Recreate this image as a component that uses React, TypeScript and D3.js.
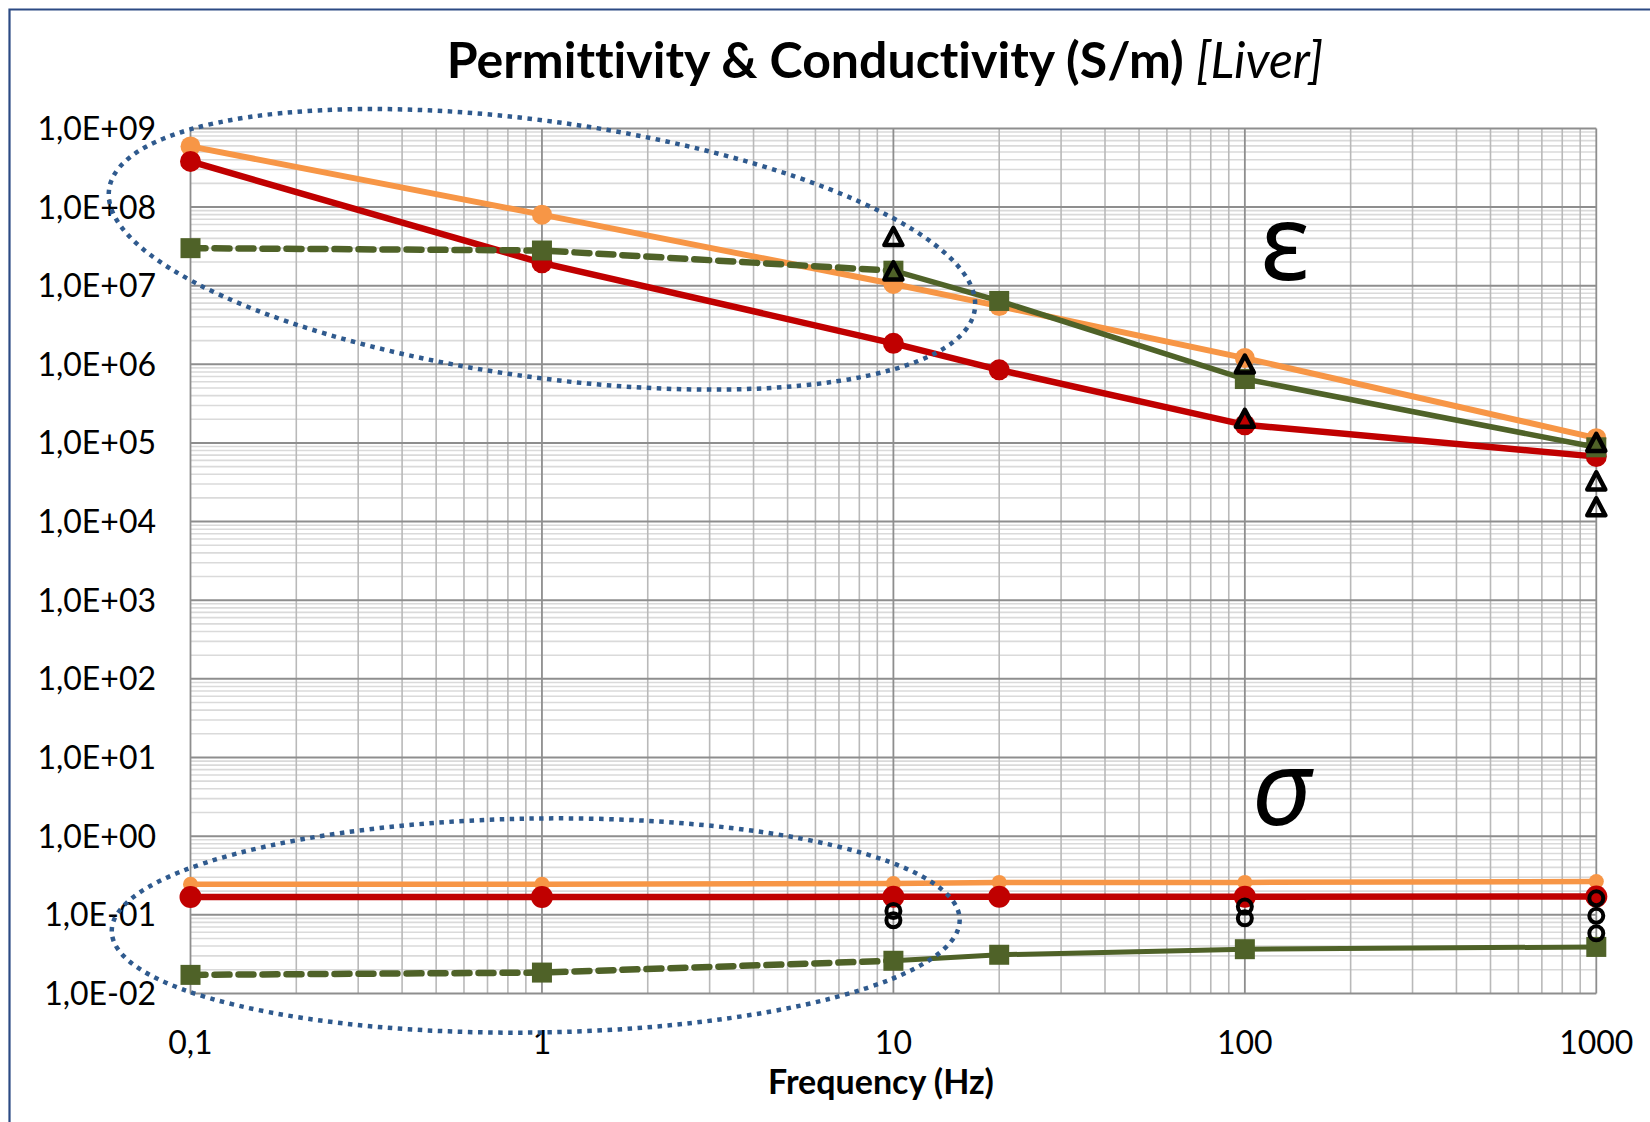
import * as d3 from 'd3';

// frequencies (Hz) where every series has a point
const freqs = [0.1, 1, 10, 20, 100, 1000];

// permittivity (upper group)
const permOrange = [5.9e8, 8.0e7, 1.05e7, 5.5e6, 1.2e6, 1.15e5];
const permRed = [3.8e8, 1.95e7, 1.85e6, 8.5e5, 1.7e5, 6.7e4];
const permGreen = [3.0e7, 2.8e7, 1.55e7, 6.4e6, 6.5e5, 8.8e4];

// conductivity (lower group)
const condOrange = [0.244, 0.245, 0.25, 0.258, 0.258, 0.265];
const condRed = [0.168, 0.168, 0.169, 0.17, 0.17, 0.171];
const condGreen = [0.0172, 0.0184, 0.026, 0.031, 0.0365, 0.039];

// literature points (black open markers)
const refPermFreq = [10, 10, 100, 100, 1000, 1000, 1000];
const refPermVal = [4.1e7, 1.5e7, 9.8e5, 2.0e5, 9.9e4, 3.2e4, 1.5e4];
const refCondFreq = [10, 10, 100, 100, 1000, 1000, 1000];
const refCondVal = [0.112, 0.085, 0.127, 0.09, 0.162, 0.097, 0.058];

const xTicks = [0.1, 1, 10, 100, 1000];
const xTickLabels = ['0,1', '1', '10', '100', '1000'];
const yTicks = [1e-2, 1e-1, 1e0, 1e1, 1e2, 1e3, 1e4, 1e5, 1e6, 1e7, 1e8, 1e9];
const yTickLabels = ['1,0E-02', '1,0E-01', '1,0E+00', '1,0E+01', '1,0E+02', '1,0E+03',
  '1,0E+04', '1,0E+05', '1,0E+06', '1,0E+07', '1,0E+08', '1,0E+09'];

const W = 1650;
const H = 1122;
const plot = { left: 190.5, right: 1596.3, top: 128.4, bottom: 993.4 };

const ORANGE = '#f79646';
const RED = '#c00000';
const GREEN = '#4f6228';
const BLUE = '#2f5a8e';
const FONT = 'Lato, "Open Sans", sans-serif';

function App() {
  const x = d3.scaleLog().domain([0.1, 1000]).range([plot.left, plot.right]);
  const y = d3.scaleLog().domain([0.01, 1e9]).range([plot.bottom, plot.top]);

  const line = d3.line<[number, number]>().x(d => x(d[0])).y(d => y(d[1]));
  const pts = (vals: number[]) => freqs.map((f, i) => [f, vals[i]] as [number, number]);
  const upTo10 = (vals: number[]) => pts(vals).filter(d => d[0] <= 10);
  const from10 = (vals: number[]) => pts(vals).filter(d => d[0] >= 10);

  // minor grid values
  const minorX: number[] = [];
  for (let e = -1; e < 3; e++) for (let k = 2; k <= 9; k++) minorX.push(k * Math.pow(10, e));
  const minorY: number[] = [];
  for (let e = -2; e < 9; e++) for (let k = 2; k <= 9; k++) minorY.push(k * Math.pow(10, e));

  const tri = (cx: number, cy: number) => {
    const s = 9.5;
    return `M${cx},${cy - s}L${cx + s * 0.95},${cy + s * 0.8}L${cx - s * 0.95},${cy + s * 0.8}Z`;
  };

  return (
    <svg width={W} height={H} style={{ position: 'absolute', left: 0, top: 0, display: 'block' }}
      fontFamily={FONT}>
      <rect x={0} y={0} width={W} height={H} fill="#fff" />
      {/* outer chart border, runs off the picture right and bottom */}
      <path d={`M9.5,${H + 5}V9.5H${W + 5}`} fill="none" stroke="#2c4a84" strokeWidth={2.2} />

      {/* grid */}
      <g>
        {minorY.map((v, i) => (
          <line key={'hy' + i} x1={plot.left} x2={plot.right} y1={y(v)} y2={y(v)} stroke="#dadada" strokeWidth={1.6} />
        ))}
        {minorX.map((v, i) => (
          <line key={'vx' + i} x1={x(v)} x2={x(v)} y1={plot.top} y2={plot.bottom} stroke="#b9b9b9" strokeWidth={1.6} />
        ))}
        {yTicks.map((v, i) => (
          <line key={'my' + i} x1={plot.left} x2={plot.right} y1={y(v)} y2={y(v)} stroke="#8e8e8e" strokeWidth={2} />
        ))}
        {xTicks.map((v, i) => (
          <line key={'mx' + i} x1={x(v)} x2={x(v)} y1={plot.top} y2={plot.bottom} stroke="#8e8e8e" strokeWidth={1.8} />
        ))}
      </g>

      {/* title */}
      <text x={885} y={78} textAnchor="middle" fontSize={50} fontWeight="bold" fill="#000"
        style={{ fontVariantLigatures: 'none' }}>
        Permittivity &amp; Conductivity (S/m){' '}
        <tspan fontStyle="italic" fontWeight="normal">[Liver]</tspan>
      </text>

      {/* axis labels */}
      {yTicks.map((v, i) => (
        <text key={'yl' + i} x={156} y={y(v) + 11.5} textAnchor="end" fontSize={32} fill="#000">{yTickLabels[i]}</text>
      ))}
      {xTicks.map((v, i) => (
        <text key={'xl' + i} x={x(v)} y={1054} textAnchor="middle" fontSize={32} fill="#000">{xTickLabels[i]}</text>
      ))}
      <text x={881} y={1094} textAnchor="middle" fontSize={34} fontWeight="bold" fill="#000">Frequency (Hz)</text>

      {/* Greek labels */}
      <text x={1260} y={280} fontSize={106} fontFamily='"Noto Sans", "DejaVu Sans", sans-serif' fill="#000">ε</text>
      <text x={1252} y={825} fontSize={104} fontStyle="italic" fontFamily='"Noto Sans", "DejaVu Sans", sans-serif' fill="#000">σ</text>

      {/* permittivity series */}
      <path d={line(pts(permOrange)) || ''} fill="none" stroke={ORANGE} strokeWidth={6} />
      {pts(permOrange).map((d, i) => <circle key={'po' + i} cx={x(d[0])} cy={y(d[1])} r={10} fill={ORANGE} />)}
      <path d={line(pts(permRed)) || ''} fill="none" stroke={RED} strokeWidth={6.5} />
      {pts(permRed).map((d, i) => <circle key={'pr' + i} cx={x(d[0])} cy={y(d[1])} r={10.5} fill={RED} />)}
      <path d={line(upTo10(permGreen)) || ''} fill="none" stroke={GREEN} strokeWidth={6.5}
        strokeDasharray="15 9" strokeLinecap="round" />
      <path d={line(from10(permGreen)) || ''} fill="none" stroke={GREEN} strokeWidth={5.5} />
      {pts(permGreen).map((d, i) => <rect key={'pg' + i} x={x(d[0]) - 10} y={y(d[1]) - 10} width={20} height={20} fill={GREEN} />)}

      {/* conductivity series */}
      <path d={line(pts(condOrange)) || ''} fill="none" stroke={ORANGE} strokeWidth={5.5} />
      {pts(condOrange).map((d, i) => <circle key={'co' + i} cx={x(d[0])} cy={y(d[1])} r={7.5} fill={ORANGE} />)}
      <path d={line(pts(condRed)) || ''} fill="none" stroke={RED} strokeWidth={6.5} />
      {pts(condRed).map((d, i) => <circle key={'cr' + i} cx={x(d[0])} cy={y(d[1])} r={11} fill={RED} />)}
      <path d={line(upTo10(condGreen)) || ''} fill="none" stroke={GREEN} strokeWidth={6.5}
        strokeDasharray="15 9" strokeLinecap="round" />
      <path d={line(from10(condGreen)) || ''} fill="none" stroke={GREEN} strokeWidth={5} />
      {pts(condGreen).map((d, i) => <rect key={'cg' + i} x={x(d[0]) - 10} y={y(d[1]) - 10} width={20} height={20} fill={GREEN} />)}

      {/* reference markers */}
      {refPermFreq.map((f, i) => (
        <path key={'rt' + i} d={tri(x(f), y(refPermVal[i]))} fill="none" stroke="#000" strokeWidth={4.5} strokeLinejoin="round" />
      ))}
      {refCondFreq.map((f, i) => (
        <circle key={'rc' + i} cx={x(f)} cy={y(refCondVal[i])} r={7} fill="none" stroke="#000" strokeWidth={4} />
      ))}

      {/* dotted ellipses around the extrapolated low-frequency parts */}
      <ellipse cx={x(1)} cy={y(2.9e7)} rx={437} ry={128} fill="none" stroke={BLUE} strokeWidth={4.5}
        strokeDasharray="4.5 5.5" transform={`rotate(7.9 ${x(1)} ${y(2.9e7)})`} />
      <ellipse cx={x(0.96)} cy={y(0.073)} rx={424} ry={107} fill="none" stroke={BLUE} strokeWidth={4.5}
        strokeDasharray="4.5 5.5" transform={`rotate(-0.8 ${x(0.96)} ${y(0.073)})`} />
    </svg>
  );
}

export default App;
